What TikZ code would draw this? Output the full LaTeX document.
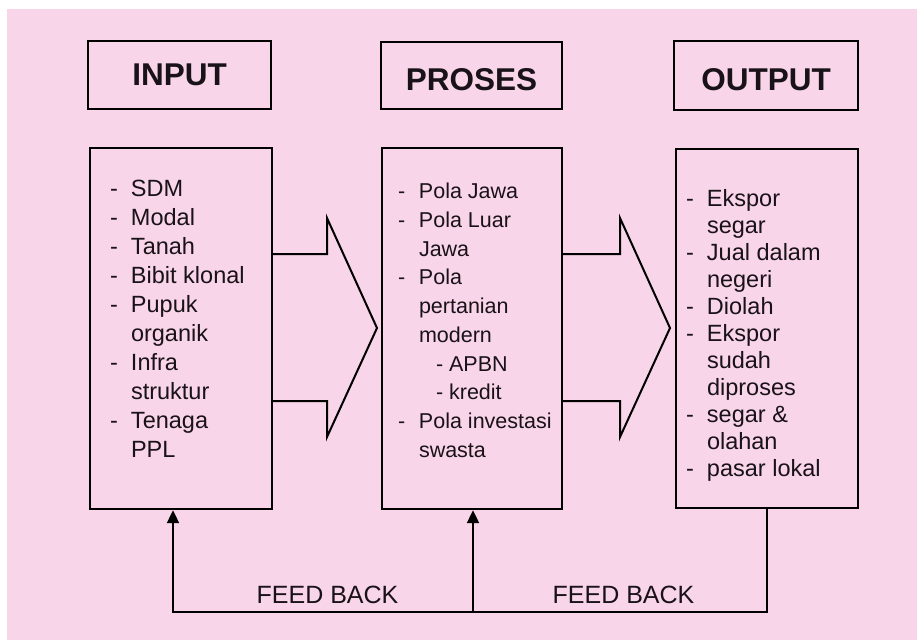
\documentclass[tikz,border=0pt]{standalone}
\usepackage{fontspec}
\setmainfont{Liberation Sans}
\usetikzlibrary{arrows.meta,calc}
\definecolor{bgpink}{RGB}{249,213,233}
\definecolor{ink}{RGB}{25,18,25}
\newcommand\itm[1]{\makebox[21pt][l]{-}#1}
\newcommand\cnt[1]{\hspace*{21pt}#1}
\begin{document}
\begin{tikzpicture}[x=1pt,y=-1pt,
  headbox/.style={draw=black, line width=2.6pt, inner sep=0pt, text=ink,
    font=\fontsize{31.5}{36}\selectfont\bfseries},
  listbox/.style={draw=black, line width=2.4pt, inner sep=0pt},
  listtext/.style={anchor=base west, inner sep=0pt, text=ink},
  blockarrow/.style={draw=black, line width=2pt, line join=miter},
  fbline/.style={draw=black, line width=2.2pt, line join=miter},
  fbtip/.style={-{Triangle[length=13pt,width=12pt]}},
  fblabel/.style={anchor=base, inner sep=0pt, text=ink, font=\fontsize{25}{30}\selectfont}
]
\useasboundingbox (0,0) rectangle (917,640);
\fill[white] (0,0) rectangle (917,640);
\fill[bgpink] (7,9) rectangle (917,640);

% header boxes
\node[headbox, minimum width=183pt, minimum height=68pt] (hin) at (179.5,75) {INPUT};
\node[headbox, minimum width=181pt, minimum height=67pt, text height=30.6pt, text depth=0pt] (hpr) at (471.5,75.5) {PROSES};
\node[headbox, minimum width=184pt, minimum height=69pt, text height=30.6pt, text depth=0pt] (hout) at (766,75.5) {OUTPUT};

% list boxes
\node[listbox, minimum width=182pt, minimum height=361pt] (bin) at (181,328.5) {};
\node[listbox, minimum width=180pt, minimum height=361pt] (bpr) at (472,328.5) {};
\node[listbox, minimum width=182pt, minimum height=359pt] (bout) at (767,328.5) {};

% list texts
\node[listtext, font=\fontsize{23.5}{29}\selectfont] (tin) at ($(bin.north west)+(21,50)$)
 {\begin{tabular}[t]{@{}l@{}}
 \itm{SDM}\\ \itm{Modal}\\ \itm{Tanah}\\ \itm{Bibit klonal}\\ \itm{Pupuk}\\ \cnt{organik}\\
 \itm{Infra}\\ \cnt{struktur}\\ \itm{Tenaga}\\ \cnt{PPL}
 \end{tabular}};
\node[listtext, font=\fontsize{21.5}{28.7}\selectfont] (tpr) at ($(bpr.north west)+(17,52)$)
 {\begin{tabular}[t]{@{}l@{}}
 \itm{Pola Jawa}\\ \itm{Pola Luar}\\ \cnt{Jawa}\\ \itm{Pola}\\ \cnt{pertanian}\\ \cnt{modern}\\
 \cnt{\hspace*{17pt}- APBN}\\ \cnt{\hspace*{17pt}- kredit}\\ \itm{Pola investasi}\\ \cnt{swasta}
 \end{tabular}};
\node[listtext, font=\fontsize{23.5}{27}\selectfont] (tout) at ($(bout.north west)+(11,59)$)
 {\begin{tabular}[t]{@{}l@{}}
 \itm{Ekspor}\\ \cnt{segar}\\ \itm{Jual dalam}\\ \cnt{negeri}\\ \itm{Diolah}\\ \itm{Ekspor}\\
 \cnt{sudah}\\ \cnt{diproses}\\ \itm{segar \&}\\ \cnt{olahan}\\ \itm{pasar lokal}
 \end{tabular}};

% block arrows
\coordinate (ya) at (0,254);
\coordinate (yb) at (0,401);
\draw[blockarrow] (bin.east |- ya) -- (327,254) -- (327,218) -- (377,328) -- (327,437) -- (327,401) -- (bin.east |- yb);
\draw[blockarrow] (bpr.east |- ya) -- (620,254) -- (620,218) -- (670,328) -- (620,437) -- (620,401) -- (bpr.east |- yb);

% feedback
\coordinate (fbL) at (173,612);
\coordinate (fbM) at (473,612);
\coordinate (fbR) at (767,612);
\draw[fbline, fbtip] (bout.south) -- (fbR) -- (fbL) -- (bin.south -| fbL);
\draw[fbline, fbtip] (fbM) -- (bpr.south -| fbM);
\node[fblabel] (fb1) at (327.5,603) {FEED BACK};
\node[fblabel] (fb2) at (623.5,603) {FEED BACK};
\end{tikzpicture}
\end{document}
